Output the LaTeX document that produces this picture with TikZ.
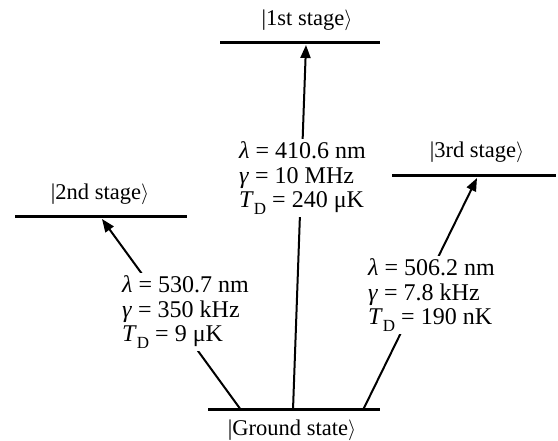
\documentclass[tikz,border=0pt]{standalone}
\usepackage{fontspec}
\setmainfont{Liberation Serif}
\usetikzlibrary{arrows.meta}
\newcommand\myket[1]{|#1$\rangle$}
\newcommand\tsub[1]{\raisebox{-0.28em}{\fontsize{17}{17}\selectfont #1}}
\begin{document}
\begin{tikzpicture}[x=1pt,y=-1pt,
  levelline/.style={line width=3pt},
  trans/.style={line width=2pt,-{Triangle[length=13pt,width=10pt]}},
  lab/.style={font=\fontsize{22.5}{24.5}\selectfont, inner sep=0pt},
  info/.style={font=\fontsize{24}{24.5}\selectfont, align=left, fill=white, inner sep=3pt, anchor=west}]
\useasboundingbox (0,0) rectangle (558,441);
% level line ends
\coordinate (l1a) at (220,43);  \coordinate (l1b) at (380,43);
\coordinate (l2a) at (15,217);  \coordinate (l2b) at (187,217);
\coordinate (l3a) at (392,176); \coordinate (l3b) at (556,176);
\coordinate (l0a) at (208,410); \coordinate (l0b) at (380,410);
% transition ends
\coordinate (g1) at (241,410); \coordinate (g2) at (293,410); \coordinate (g3) at (363,410);
\coordinate (e1) at (306,45); \coordinate (e2) at (102,219); \coordinate (e3) at (477,178);
\draw[trans] (g2) -- (e1);
\draw[trans] (g1) -- (e2);
\draw[trans] (g3) -- (e3);
\draw[levelline] (l1a) -- (l1b);
\draw[levelline] (l2a) -- (l2b);
\draw[levelline] (l3a) -- (l3b);
\draw[levelline] (l0a) -- (l0b);
% labels
\node[lab] (k1) at (307,20) {\myket{1st stage}};
\node[lab] (k2) at (100,194) {\myket{2nd stage}};
\node[lab] (k3) at (477,152) {\myket{3rd stage}};
\node[lab] (k0) at (292,430) {\myket{Ground state}};
\node[info] (i1) at (236,178) {\textit{λ} = 410.6 nm\\ \textit{γ} = 10 MHz\\ \textit{T}\tsub{D} = 240 μK};
\node[info] (i2) at (119,312) {\textit{λ} = 530.7 nm\\ \textit{γ} = 350 kHz\\ \textit{T}\tsub{D} = 9 μK};
\node[info] (i3) at (365,295) {\textit{λ} = 506.2 nm\\ \textit{γ} = 7.8 kHz\\ \textit{T}\tsub{D} = 190 nK};
\end{tikzpicture}
\end{document}
